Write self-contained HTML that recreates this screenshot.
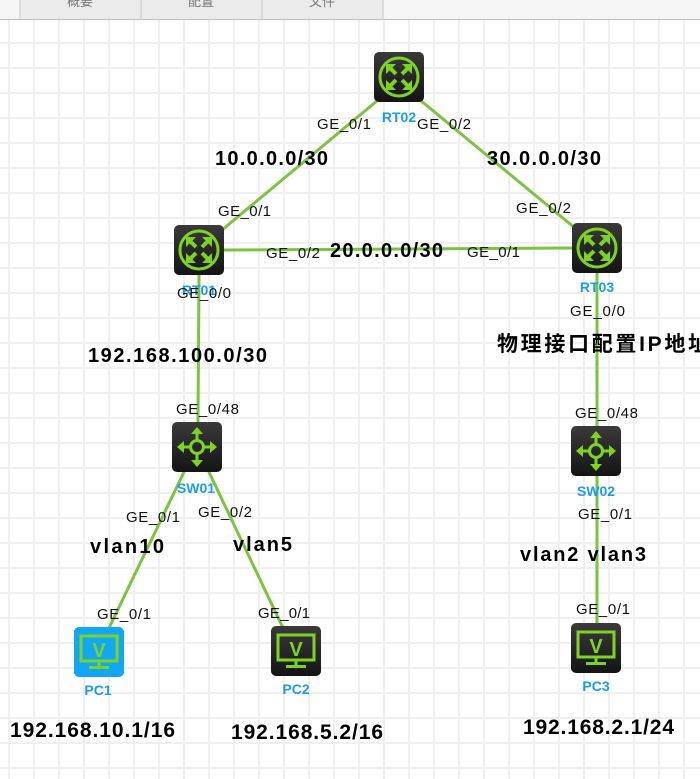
<!DOCTYPE html>
<html><head><meta charset="utf-8"><style>
html,body{margin:0;padding:0;background:#fff;}
body{width:700px;height:779px;overflow:hidden;position:relative;}
svg{position:absolute;left:0;top:0;}
</style></head><body>
<svg width="700" height="779" viewBox="0 0 700 779" xmlns="http://www.w3.org/2000/svg">
<defs>
<pattern id="g" x="8" y="17" width="25" height="25" patternUnits="userSpaceOnUse">
<rect x="0" y="0" width="2" height="25" fill="#efefef"/>
<rect x="0" y="0" width="25" height="2" fill="#efefef"/>
</pattern>
<linearGradient id="dk" x1="0" y1="0" x2="0" y2="1"><stop offset="0" stop-color="#3a3a3a"/><stop offset="1" stop-color="#141414"/></linearGradient>
<g id="rt">
<rect x="0" y="0" width="50" height="50" rx="5" fill="url(#dk)"/>
<circle cx="25" cy="25" r="19" fill="none" stroke="#7ed321" stroke-width="3"/>
<g stroke="#7ed321" stroke-width="4" fill="none">
<path d="M15 15 L22 22 M35 15 L28 22 M15 35 L22 28 M35 35 L28 28"/>
</g>
<g fill="#7ed321">
<polygon points="12,12 22,12 12,22"/><polygon points="38,12 28,12 38,22"/>
<polygon points="12,38 22,38 12,28"/><polygon points="38,38 28,38 38,28"/>
</g>
</g>
<g id="sw">
<rect x="0" y="0" width="50" height="50" rx="5" fill="url(#dk)"/>
<circle cx="25" cy="25" r="6.5" fill="none" stroke="#7ed321" stroke-width="3"/>
<g stroke="#7ed321" stroke-width="3"><path d="M25 8V18.5M25 31.5V42M8 25H18.5M31.5 25H42"/></g>
<g fill="#7ed321"><polygon points="25,5 19,12 31,12"/><polygon points="25,45 19,38 31,38"/><polygon points="5,25 12,19 12,31"/><polygon points="45,25 38,19 38,31"/></g>
</g>
<g id="pcin">
<rect x="7" y="9" width="36" height="25" fill="none" stroke="#7ed321" stroke-width="3"/>
<text x="25" y="30" text-anchor="middle" font-family="Liberation Sans" font-weight="bold" font-size="20" fill="#7ed321">V</text>
<rect x="23.5" y="34" width="3" height="5" fill="#7ed321"/>
<rect x="15" y="39" width="20" height="3" fill="#7ed321"/>
</g>
</defs>
<rect x="0" y="0" width="700" height="779" fill="url(#g)"/>
<rect x="0" y="0" width="700" height="19" fill="#f5f5f5"/>
<rect x="20" y="0" width="363" height="19" fill="#ebebeb"/>
<path d="M20 0V19M141 0V19M262 0V19M383 0V19" stroke="#c8c8c8" stroke-width="1"/>
<rect x="0" y="19" width="700" height="1" fill="#c0c0c0"/>
<g font-family="Liberation Sans, Noto Sans CJK SC, sans-serif" font-size="13" fill="#777" text-anchor="middle">
<text x="80" y="6">概要</text><text x="201" y="6">配置</text><text x="322" y="6">文件</text></g>
<g stroke="#7ec242" stroke-width="3" fill="none">
<line x1="384" y1="95" x2="210" y2="240"/>
<line x1="414" y1="95" x2="587" y2="238"/>
<line x1="224" y1="250" x2="572" y2="248"/>
<line x1="199" y1="275" x2="198" y2="422"/>
<line x1="597" y1="273" x2="597" y2="426"/>
<line x1="185" y1="470" x2="108" y2="630"/>
<line x1="208" y1="470" x2="284" y2="630"/>
<line x1="597" y1="476" x2="597" y2="623"/>
</g>
<use href="#rt" x="374" y="52"/>
<use href="#rt" x="174" y="225"/>
<use href="#rt" x="572" y="223"/>
<use href="#sw" x="172" y="422"/>
<use href="#sw" x="571" y="426"/>
<rect x="74" y="627" width="50" height="50" rx="5" fill="#11a7f5"/><use href="#pcin" x="74" y="627"/>
<rect x="271" y="626" width="50" height="50" rx="5" fill="url(#dk)"/><use href="#pcin" x="271" y="626"/>
<rect x="571" y="623" width="50" height="50" rx="5" fill="url(#dk)"/><use href="#pcin" x="571" y="623"/>
<g font-family="Liberation Sans, sans-serif" font-weight="bold" font-size="14" fill="#1b9be8" text-anchor="middle">
<text x="399" y="122">RT02</text>
<text x="199" y="295">RT01</text>
<text x="597" y="292">RT03</text>
<text x="196" y="493">SW01</text>
<text x="596" y="496">SW02</text>
<text x="98" y="695">PC1</text>
<text x="296" y="694">PC2</text>
<text x="596" y="691">PC3</text>
</g>
<g font-family="Liberation Sans, sans-serif" font-size="15" fill="#111" lengthAdjust="spacingAndGlyphs">
<text x="317" y="129" textLength="54">GE_0/1</text>
<text x="417" y="129" textLength="54">GE_0/2</text>
<text x="218" y="216" textLength="53">GE_0/1</text>
<text x="516" y="213" textLength="55">GE_0/2</text>
<text x="266" y="258" textLength="54">GE_0/2</text>
<text x="467" y="257" textLength="53">GE_0/1</text>
<text x="177" y="298" textLength="54">GE_0/0</text>
<text x="570" y="316" textLength="55">GE_0/0</text>
<text x="176" y="414" textLength="63">GE_0/48</text>
<text x="575" y="418" textLength="63">GE_0/48</text>
<text x="126" y="522" textLength="54">GE_0/1</text>
<text x="198" y="517" textLength="54">GE_0/2</text>
<text x="578" y="519" textLength="54">GE_0/1</text>
<text x="97" y="619" textLength="54">GE_0/1</text>
<text x="258" y="618" textLength="52">GE_0/1</text>
<text x="576" y="614" textLength="54">GE_0/1</text>
</g>
<g font-family="Liberation Sans, Noto Sans CJK SC, sans-serif" font-weight="bold" font-size="20" fill="#000" lengthAdjust="spacingAndGlyphs">
<text x="215" y="165" textLength="113">10.0.0.0/30</text>
<text x="487" y="165" textLength="114">30.0.0.0/30</text>
<text x="330" y="257" textLength="113">20.0.0.0/30</text>
<text x="88" y="362" textLength="179">192.168.100.0/30</text>
<text x="497" y="351" font-size="21" textLength="212">物理接口配置IP地址</text>
<text x="90" y="553" textLength="74">vlan10</text>
<text x="233" y="551" textLength="59">vlan5</text>
<text x="520" y="561" textLength="126">vlan2 vlan3</text>
<text x="10" y="737" font-size="21" textLength="165">192.168.10.1/16</text>
<text x="231" y="739" font-size="21" textLength="152">192.168.5.2/16</text>
<text x="523" y="734" font-size="21" textLength="151">192.168.2.1/24</text>
</g>
</svg>
</body></html>
